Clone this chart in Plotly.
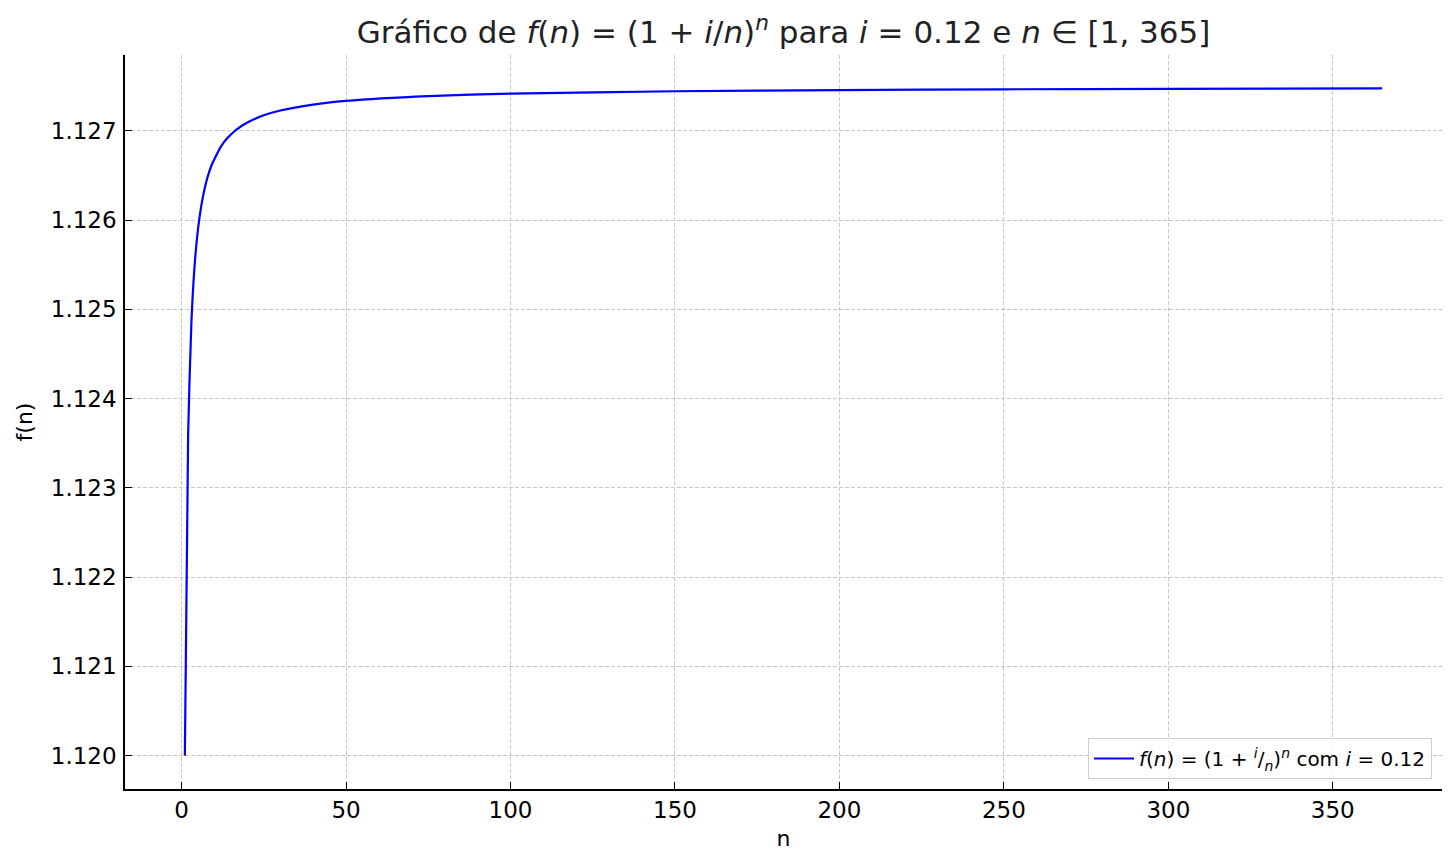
import plotly.graph_objs as go

# points (n, f(n)) with i = 0.12
n_values = [1, 2, 3, 4, 5, 6, 7, 8, 9, 10, 12, 14, 16, 18, 20, 25, 30, 40, 50,
            75, 100, 150, 200, 250, 300, 365]
f_values = [1.120000, 1.123600, 1.124864, 1.125509, 1.125900, 1.126162,
            1.126351, 1.126493, 1.126603, 1.126683, 1.126825, 1.126921,
            1.126992, 1.127048, 1.127093, 1.127173, 1.127227, 1.127294,
            1.127335, 1.127389, 1.127416, 1.127443, 1.127456, 1.127465,
            1.127470, 1.127475]

x_ticks = [0, 50, 100, 150, 200, 250, 300, 350]
y_ticks = [1.120, 1.121, 1.122, 1.123, 1.124, 1.125, 1.126, 1.127]

title_text = ("Gráfico de <i>f</i>(<i>n</i>) = (1 + <i>i</i>/<i>n</i>)<sup><i>n</i></sup>"
              " para <i>i</i> = 0.12 e <i>n</i> ∈ [1, 365]")
legend_text = ("<i>f</i>(<i>n</i>) = (1 + <sup><i>i</i></sup>/<sub><i>n</i></sub>)"
               "<sup><i>n</i></sup> com <i>i</i> = 0.12")

fig = go.Figure()
fig.add_trace(go.Scatter(
    x=n_values, y=f_values, mode="lines", name=legend_text,
    line=dict(color="#0000ff", width=2.2, shape="spline", smoothing=0.6),
))

axis_style = dict(
    showline=True, linecolor="black", linewidth=1.5,
    ticks="inside", ticklen=7, tickwidth=1.3, tickcolor="black",
    showgrid=True, gridcolor="#c8c8c8", gridwidth=0.9, griddash="4px,2px",
    zeroline=False, mirror=False,
    tickfont=dict(size=23, color="black"),
    title_font=dict(size=22, color="black"),
)

fig.update_xaxes(axis_style, range=[-17.2, 383.2], tickvals=x_ticks,
                 title=dict(text="n", standoff=8))
fig.update_yaxes(axis_style, range=[1.119626, 1.127849], tickvals=y_ticks,
                 tickformat=".3f", ticklabelstandoff=2,
                 title=dict(text="f(n)", standoff=12))

fig.update_layout(
    width=1456, height=868,
    font=dict(family="DejaVu Sans", color="black"),
    plot_bgcolor="white", paper_bgcolor="white",
    margin=dict(l=125, r=14, t=55, b=79),
    title=dict(text=title_text, xref="paper", x=0.5, xanchor="center",
               y=0.963, yanchor="middle",
               font=dict(size=31, color="#222222")),
    showlegend=True,
    legend=dict(x=0.9924, y=0.0136, xanchor="right", yanchor="bottom",
                bgcolor="rgba(255,255,255,0.8)", bordercolor="#cccccc", borderwidth=1,
                itemwidth=40, font=dict(size=20, color="black")),
)

fig.write_html("out.html", config={"displayModeBar": False},
               post_script="document.body.style.margin='0';"
                           "document.body.style.overflow='hidden';")
